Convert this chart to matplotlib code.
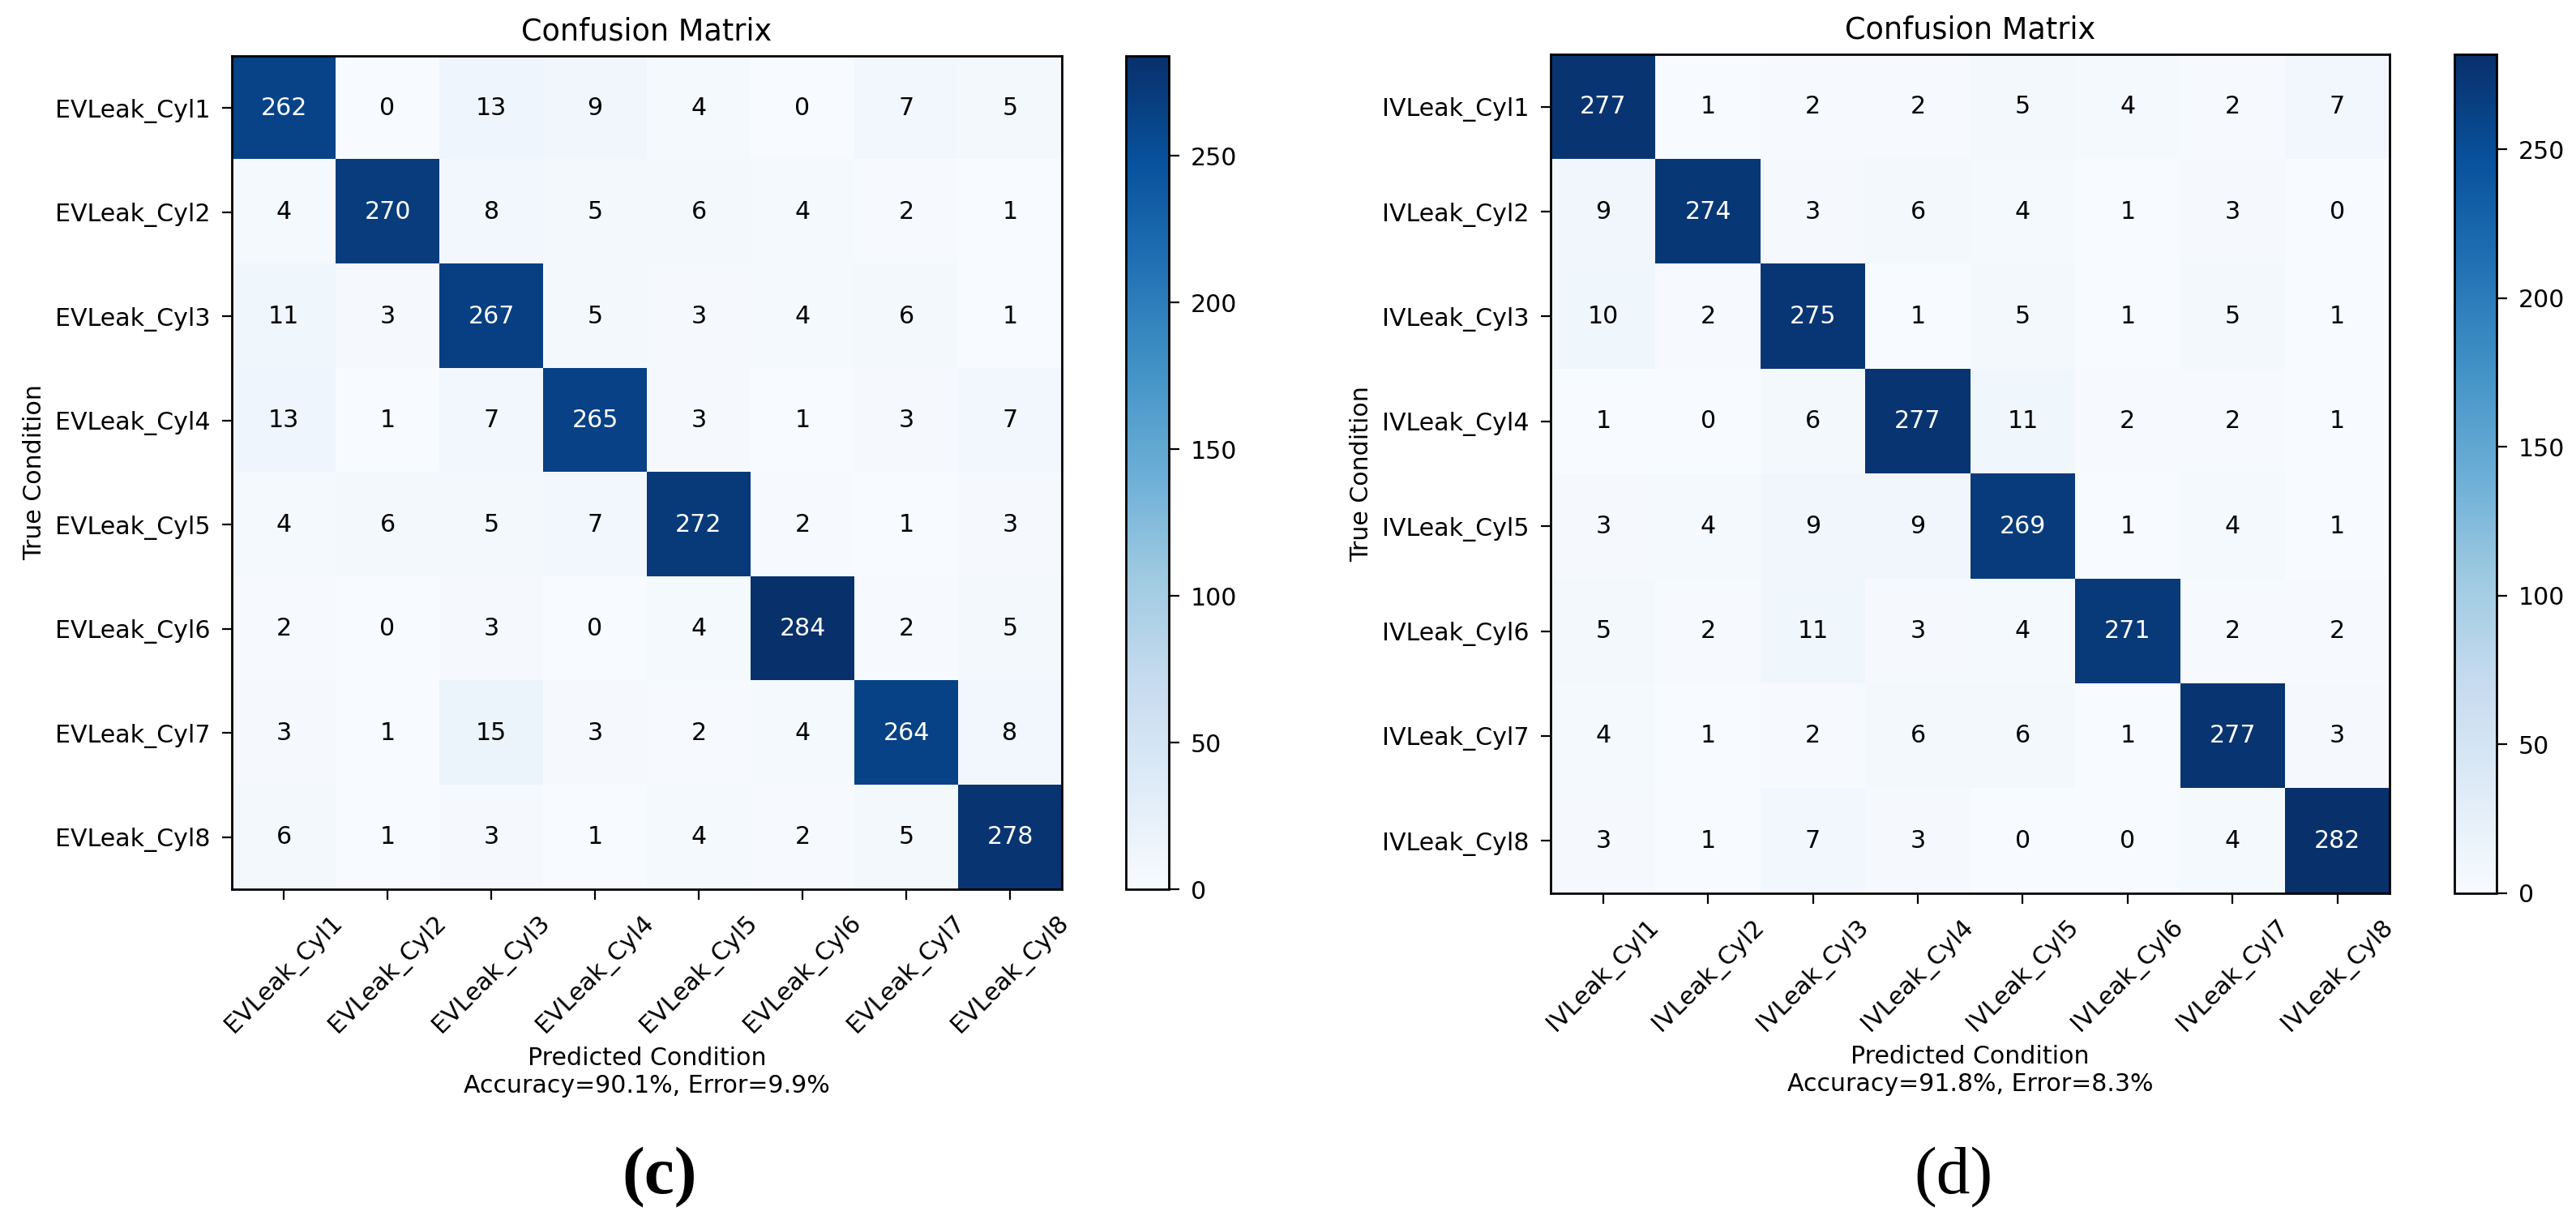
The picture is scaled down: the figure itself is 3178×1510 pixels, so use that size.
import numpy as np
import matplotlib
matplotlib.use('Agg')
import matplotlib.pyplot as plt

# confusion matrices
ev_labels = ['EVLeak_Cyl1', 'EVLeak_Cyl2', 'EVLeak_Cyl3', 'EVLeak_Cyl4',
             'EVLeak_Cyl5', 'EVLeak_Cyl6', 'EVLeak_Cyl7', 'EVLeak_Cyl8']
ev_cm = np.array([
    [262, 0, 13, 9, 4, 0, 7, 5],
    [4, 270, 8, 5, 6, 4, 2, 1],
    [11, 3, 267, 5, 3, 4, 6, 1],
    [13, 1, 7, 265, 3, 1, 3, 7],
    [4, 6, 5, 7, 272, 2, 1, 3],
    [2, 0, 3, 0, 4, 284, 2, 5],
    [3, 1, 15, 3, 2, 4, 264, 8],
    [6, 1, 3, 1, 4, 2, 5, 278],
])
ev_xlabel = 'Predicted Condition\nAccuracy=90.1%, Error=9.9%'

iv_labels = ['IVLeak_Cyl1', 'IVLeak_Cyl2', 'IVLeak_Cyl3', 'IVLeak_Cyl4',
             'IVLeak_Cyl5', 'IVLeak_Cyl6', 'IVLeak_Cyl7', 'IVLeak_Cyl8']
iv_cm = np.array([
    [277, 1, 2, 2, 5, 4, 2, 7],
    [9, 274, 3, 6, 4, 1, 3, 0],
    [10, 2, 275, 1, 5, 1, 5, 1],
    [1, 0, 6, 277, 11, 2, 2, 1],
    [3, 4, 9, 9, 269, 1, 4, 1],
    [5, 2, 11, 3, 4, 271, 2, 2],
    [4, 1, 2, 6, 6, 1, 277, 3],
    [3, 1, 7, 3, 0, 0, 4, 282],
])
iv_xlabel = 'Predicted Condition\nAccuracy=91.8%, Error=8.3%'

FS = 10.8

plt.rcParams['font.family'] = 'DejaVu Sans'
plt.rcParams['font.size'] = FS
plt.rcParams['axes.linewidth'] = 1.0

fig = plt.figure(figsize=(15.89, 7.55), dpi=200)


def plot_cm(ax, cax, cm, labels, xlabel):
    im = ax.imshow(cm, interpolation='nearest', cmap='Blues',
                   vmin=0, vmax=cm.max(), aspect='auto')
    ax.set_title('Confusion Matrix', fontsize=13.2, pad=7)
    cb = fig.colorbar(im, cax=cax)
    cb.set_ticks([0, 50, 100, 150, 200, 250])
    cb.ax.tick_params(labelsize=FS, length=4.5, width=0.8, pad=5)
    ticks = np.arange(len(labels))
    ax.set_xticks(ticks)
    ax.set_xticklabels(labels, rotation=45)
    ax.set_yticks(ticks)
    ax.set_yticklabels(labels)
    ax.tick_params(labelsize=FS, length=4.5, width=0.8, pad=5)
    thresh = cm.max() / 2.
    for i in range(cm.shape[0]):
        for j in range(cm.shape[1]):
            ax.text(j, i, format(cm[i, j], 'd'), ha='center', va='center',
                    fontsize=FS,
                    color='white' if cm[i, j] > thresh else 'black')
    ax.set_ylabel('True Condition', fontsize=FS)
    ax.set_xlabel(xlabel, fontsize=FS)


ax1 = fig.add_axes([0.0900, 0.2735, 0.3222, 0.6808])
cax1 = fig.add_axes([0.4371, 0.2735, 0.0167, 0.6808])
plot_cm(ax1, cax1, ev_cm, ev_labels, ev_xlabel)

ax2 = fig.add_axes([0.6020, 0.2702, 0.3257, 0.6854])
cax2 = fig.add_axes([0.9528, 0.2702, 0.0164, 0.6854])
plot_cm(ax2, cax2, iv_cm, iv_labels, iv_xlabel)

fig.text(814 / 3178, 1 - 1453 / 1510, '(c)', ha='center', va='center',
         fontsize=30, fontweight='bold', family='Liberation Serif')
fig.text(2410 / 3178, 1 - 1453 / 1510, '(d)', ha='center', va='center',
         fontsize=30, family='Liberation Serif')

fig.savefig('out.png', dpi=200)
